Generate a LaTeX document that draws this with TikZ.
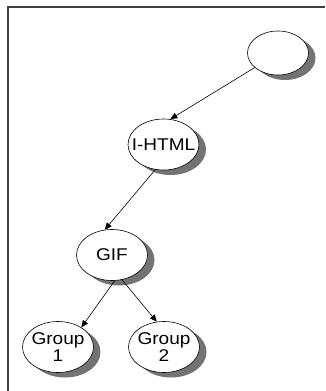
\documentclass[tikz,border=0pt]{standalone}
\usepackage{fontspec}
\setmainfont{Liberation Sans}[FakeStretch=1.12]
\usepackage{tikz}
\usetikzlibrary{shapes.geometric, arrows.meta, shadows}

\tikzset{
  bub/.style={ellipse, draw, fill=white, line width=0.6pt,
    minimum width=71pt, minimum height=51pt, inner xsep=-10pt, inner ysep=0pt,
    align=center, font=\fontsize{17}{16.5}\selectfont,
    drop shadow={shadow xshift=7pt, shadow yshift=-5pt, fill=black!55, opacity=1}},
  lnk/.style={line width=0.6pt, -{Triangle[length=7pt,width=6pt]}}
}

\begin{document}
\begin{tikzpicture}[x=1pt, y=-1pt]
        \useasboundingbox (0,0) rectangle (325,391);
        \draw[line width=1.2pt, black!75] (325,7) -- (8,7) -- (8,391);

        \node[bub, minimum width=61pt, minimum height=44pt] (root) at (278,53) {};
        \node[bub] (ihtml) at (163.5,144.5) {I-HTML};
        \node[bub] (gif) at (112,255) {GIF};
        \node[bub] (grpA) at (58,347) {Group\\1};
        \node[bub] (grpB) at (164,347) {Group\\2};

        \draw[lnk] (root.212) -- (ihtml.75);
        \draw[lnk] (ihtml.252) -- (gif.106);
        \draw[lnk] (gif.276) -- (grpA.40);
        \draw[lnk] (gif.292) -- (grpB.106);
    \end{tikzpicture}
\end{document}
